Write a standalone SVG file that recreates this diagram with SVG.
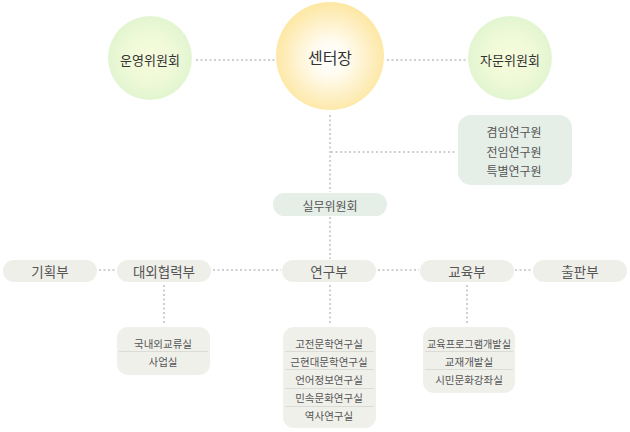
<svg xmlns="http://www.w3.org/2000/svg" width="630" height="432" viewBox="0 0 630 432">
<defs>
<radialGradient id="gGreen" cx="0.5" cy="0.5" r="0.5">
<stop offset="0" stop-color="#f7fbdc"/>
<stop offset="0.6" stop-color="#eef9d7"/>
<stop offset="1" stop-color="#e2f5d0"/>
</radialGradient>
<radialGradient id="gYellow" cx="0.5" cy="0.52" r="0.5">
<stop offset="0" stop-color="#ffffff"/>
<stop offset="0.3" stop-color="#fffcf2"/>
<stop offset="0.75" stop-color="#feefc2"/>
<stop offset="1" stop-color="#fde8a6"/>
</radialGradient>
<style>
text{font-family:"Noto Sans CJK KR","Noto Sans",sans-serif;fill:#444;text-anchor:middle;dominant-baseline:central}
.big{font-size:16px;fill:#333}
.circ{font-size:13px;fill:#333}
.mid{font-size:12px;fill:#555}
.dept{font-size:13.5px;fill:#555}
.sub{font-size:10.5px;fill:#555}
.dot{stroke:#cfcfcf;stroke-width:2;stroke-dasharray:2 2.5;fill:none}
.gbox{fill:#e5eee7}
.dbox{fill:#efefea}
.sbox{fill:#f0f0eb}
.div{stroke:#dcdcd6;stroke-width:1}
</style>
</defs>
<g id="connectors">
<line class="dot" x1="196" y1="60" x2="275" y2="60"/>
<line class="dot" x1="387" y1="60" x2="468" y2="60"/>
<line class="dot" x1="330" y1="115" x2="330" y2="192"/>
<line class="dot" x1="331" y1="152" x2="455" y2="152"/>
<line class="dot" x1="330" y1="217" x2="330" y2="259"/>
<line class="dot" x1="99" y1="270" x2="116" y2="270"/>
<line class="dot" x1="213" y1="270" x2="281" y2="270"/>
<line class="dot" x1="378" y1="270" x2="419" y2="270"/>
<line class="dot" x1="515" y1="270" x2="532" y2="270"/>
<line class="dot" x1="164" y1="285" x2="164" y2="323"/>
<line class="dot" x1="330" y1="285" x2="330" y2="323"/>
<line class="dot" x1="467" y1="285" x2="467" y2="323"/>
</g>
<g id="n-unyeong">
<circle cx="150" cy="58" r="42" fill="url(#gGreen)"/>
<text class="circ" x="150" y="59">운영위원회</text>
</g>
<g id="n-center">
<circle cx="330" cy="56" r="54" fill="url(#gYellow)"/>
<text class="big" x="330" y="57">센터장</text>
</g>
<g id="n-jamun">
<circle cx="510" cy="58" r="42" fill="url(#gGreen)"/>
<text class="circ" x="510" y="59">자문위원회</text>
</g>
<g id="n-researchers">
<rect class="gbox" x="458" y="115" width="114" height="70" rx="13"/>
<text class="mid" x="514" y="131">겸임연구원</text>
<text class="mid" x="514" y="151">전임연구원</text>
<text class="mid" x="514" y="170">특별연구원</text>
</g>
<g id="n-silmu">
<rect class="gbox" x="273" y="193" width="114" height="23" rx="11.5"/>
<text class="mid" x="330" y="205">실무위원회</text>
</g>
<g id="n-gihoek">
<rect class="dbox" x="3" y="260" width="94" height="22" rx="11"/>
<text class="dept" x="50" y="271">기획부</text>
</g>
<g id="n-daeoe">
<rect class="dbox" x="117" y="260" width="94" height="22" rx="11"/>
<text class="dept" x="164" y="271">대외협력부</text>
</g>
<g id="n-yeongu">
<rect class="dbox" x="282" y="260" width="94" height="22" rx="11"/>
<text class="dept" x="329" y="271">연구부</text>
</g>
<g id="n-gyoyuk">
<rect class="dbox" x="420" y="260" width="94" height="22" rx="11"/>
<text class="dept" x="467" y="271">교육부</text>
</g>
<g id="n-chulpan">
<rect class="dbox" x="533" y="260" width="94" height="22" rx="11"/>
<text class="dept" x="580" y="271">출판부</text>
</g>
<g id="n-daeoe-sub">
<rect class="sbox" x="117" y="327" width="93" height="48" rx="11"/>
<line class="div" x1="119" y1="351.5" x2="208" y2="351.5"/>
<text class="sub" x="163" y="343">국내외교류실</text>
<text class="sub" x="163" y="361">사업실</text>
</g>
<g id="n-yeongu-sub">
<rect class="sbox" x="283" y="327" width="93" height="101" rx="11"/>
<line class="div" x1="285" y1="351.5" x2="374" y2="351.5"/>
<line class="div" x1="285" y1="369.5" x2="374" y2="369.5"/>
<line class="div" x1="285" y1="388.5" x2="374" y2="388.5"/>
<line class="div" x1="285" y1="406.5" x2="374" y2="406.5"/>
<text class="sub" x="329" y="343">고전문학연구실</text>
<text class="sub" x="329" y="361">근현대문학연구실</text>
<text class="sub" x="329" y="379">언어정보연구실</text>
<text class="sub" x="329" y="397">민속문화연구실</text>
<text class="sub" x="329" y="415">역사연구실</text>
</g>
<g id="n-gyoyuk-sub">
<rect class="sbox" x="423" y="327" width="92" height="66" rx="11"/>
<line class="div" x1="425" y1="351.5" x2="513" y2="351.5"/>
<line class="div" x1="425" y1="369.5" x2="513" y2="369.5"/>
<text class="sub" x="469" y="343" textLength="84" lengthAdjust="spacingAndGlyphs">교육프로그램개발실</text>
<text class="sub" x="469" y="361">교재개발실</text>
<text class="sub" x="469" y="379">시민문화강좌실</text>
</g>
</svg>
